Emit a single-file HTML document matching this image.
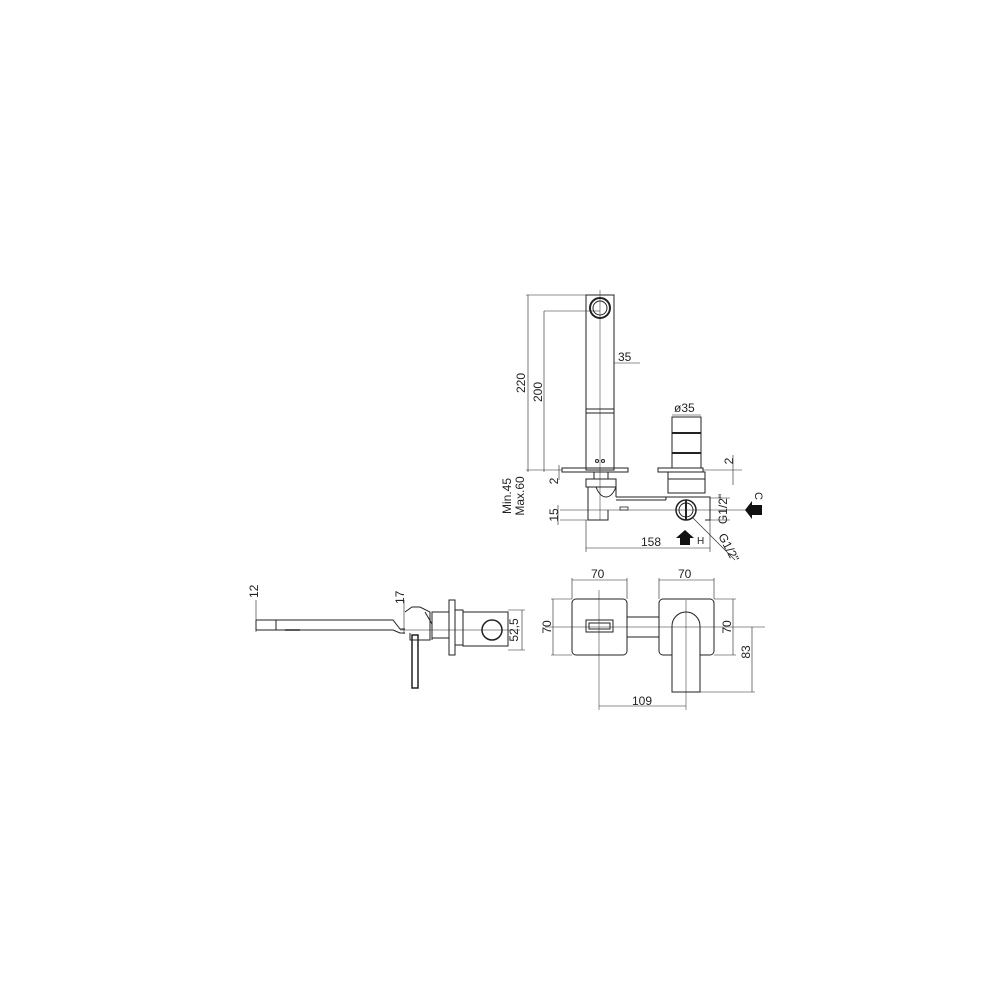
<!DOCTYPE html>
<html><head><style>html,body{margin:0;padding:0;background:#fff;}svg{display:block}</style></head>
<body>
<svg width="1000" height="1000" viewBox="0 0 1000 1000" xmlns="http://www.w3.org/2000/svg" font-family="Liberation Sans, sans-serif" font-size="12" fill="none" stroke="#222" stroke-width="1">
<!-- TOP VIEW -->
<rect x="586" y="295" width="28" height="175"/>
<circle cx="600" cy="308" r="10" stroke-width="2"/>
<circle cx="600" cy="308" r="7"/>
<line x1="586" y1="409" x2="614" y2="409"/><line x1="586" y1="413" x2="614" y2="413"/>
<circle cx="597" cy="461" r="1.5"/><circle cx="603" cy="461" r="1.5"/>
<line x1="600" y1="290" x2="600" y2="520" stroke-width="0.5"/>
<line x1="526" y1="295" x2="586" y2="295" stroke-width="0.6"/>
<line x1="528" y1="295" x2="528" y2="472" stroke-width="0.6"/>
<line x1="544" y1="311" x2="600" y2="311" stroke-width="0.6"/>
<line x1="544" y1="311" x2="544" y2="472" stroke-width="0.6"/>
<rect x="562" y="468" width="66" height="4" stroke-width="1"/>
<line x1="526" y1="470" x2="562" y2="470" stroke-width="0.6"/>
<line x1="559" y1="465" x2="559" y2="480" stroke-width="0.6"/>
<line x1="614" y1="363" x2="640" y2="363" stroke-width="0.6"/>
<line x1="614" y1="363" x2="614" y2="363"/>
<!-- lower body left -->
<rect x="594" y="472" width="14" height="7"/>
<rect x="586" y="479" width="30" height="8"/>
<path d="M588 487 V520 H608 V510 M616 487 V497 M596 487 q4 10 10 10 q6 0 10-10"/>
<line x1="616" y1="497" x2="666" y2="497"/><line x1="616" y1="500" x2="666" y2="500"/>
<rect x="620" y="507" width="8" height="3" stroke-width="0.8"/>
<line x1="560" y1="510" x2="760" y2="510" stroke-width="0.5"/>
<line x1="560" y1="520" x2="608" y2="520" stroke-width="0.6"/>
<line x1="558" y1="505" x2="558" y2="525" stroke-width="0.6"/>
<!-- right cartridge -->
<rect x="672" y="417" width="29" height="51"/>
<line x1="672" y1="433" x2="701" y2="433" stroke-width="2"/><line x1="672" y1="453" x2="701" y2="453" stroke-width="2"/>
<line x1="672" y1="415" x2="701" y2="415" stroke-width="0.6"/>
<rect x="658" y="468" width="45" height="4"/>
<line x1="703" y1="470" x2="742" y2="470" stroke-width="0.6"/>
<line x1="733" y1="455" x2="733" y2="485" stroke-width="0.6"/>
<rect x="668" y="472" width="37" height="7"/>
<rect x="668" y="479" width="37" height="14"/>
<path d="M666 497 H710 V520 H705 M666 497 V500"/>
<circle cx="686" cy="510" r="10" stroke-width="1.5"/>
<circle cx="686" cy="510" r="7"/>
<line x1="686" y1="500" x2="686" y2="520" stroke-width="2"/>
<line x1="710" y1="498" x2="730" y2="498" stroke-width="0.6"/>
<line x1="710" y1="520" x2="730" y2="520" stroke-width="0.6"/>
<line x1="692" y1="517" x2="735" y2="560" stroke-width="0.6"/>
<line x1="586" y1="520" x2="586" y2="552" stroke-width="0.6"/>
<line x1="710" y1="520" x2="710" y2="552" stroke-width="0.6"/>
<line x1="586" y1="548" x2="710" y2="548" stroke-width="0.6"/>
<path d="M762 505 H752 V501 L745 510 L752 519 V515 H762 Z" fill="#111" stroke="none"/>
<path d="M680 545 V538 H676 L685 530 L694 538 H690 V545 Z" fill="#111" stroke="none"/>
<g fill="#222" stroke="none">
<text x="618" y="361">35</text>
<text x="674" y="412">ø35</text>
<text x="641" y="546">158</text>
<text x="697" y="544" font-size="10">H</text>
<text transform="translate(525,383) rotate(-90)" text-anchor="middle">220</text>
<text transform="translate(542,392) rotate(-90)" text-anchor="middle">200</text>
<text transform="translate(558,481) rotate(-90)" text-anchor="middle">2</text>
<text transform="translate(558,515) rotate(-90)" text-anchor="middle">15</text>
<text transform="translate(511,496) rotate(-90)" text-anchor="middle">Min.45</text>
<text transform="translate(524,496) rotate(-90)" text-anchor="middle">Max.60</text>
<text transform="translate(733,461) rotate(-90)" text-anchor="middle">2</text>
<text transform="translate(727,509) rotate(-90)" text-anchor="middle">G1/2"</text>
<text transform="translate(755,496) rotate(90)" text-anchor="middle" font-size="11">C</text>
<text transform="translate(718,536) rotate(62)">G1/2"</text>
</g>
<!-- SIDE VIEW -->
<path d="M256 620 H393 L400 629 H405 M256 620 V630 H393 L400 633 H405"/>
<line x1="276" y1="620" x2="276" y2="630"/>
<line x1="285" y1="630" x2="300" y2="630" stroke-width="1.5"/>
<line x1="256" y1="600" x2="256" y2="632" stroke-width="0.6"/>
<line x1="404" y1="600" x2="404" y2="634" stroke-width="0.6"/>
<path d="M405 612 L412 607 H420 L430 612 V640 H410 V633"/>
<path d="M425 612 L432 624 V640"/>
<rect x="432" y="612" width="17" height="26"/>
<rect x="412" y="635" width="6" height="53" stroke-width="1.5"/>
<rect x="449" y="600" width="6" height="55"/>
<rect x="455" y="610" width="8" height="35"/>
<rect x="463" y="612" width="45" height="34"/>
<circle cx="492" cy="630" r="10" stroke-width="1.5"/>
<line x1="400" y1="630" x2="520" y2="630" stroke-width="0.5"/>
<line x1="508" y1="610" x2="525" y2="610" stroke-width="0.6"/>
<line x1="508" y1="650" x2="525" y2="650" stroke-width="0.6"/>
<line x1="522" y1="610" x2="522" y2="650" stroke-width="0.6"/>
<g fill="#222" stroke="none">
<text transform="translate(258,598) rotate(-90)">12</text>
<text transform="translate(404,604) rotate(-90)">17</text>
<text transform="translate(518,630) rotate(-90)" text-anchor="middle">52,5</text>
</g>
<!-- FRONT VIEW -->
<rect x="572" y="599" width="55" height="56" rx="4"/>
<rect x="659" y="599" width="55" height="56" rx="4"/>
<rect x="586" y="620" width="27" height="12"/>
<rect x="589" y="623" width="21" height="6"/>
<line x1="627" y1="617" x2="659" y2="617"/><line x1="627" y1="637" x2="659" y2="637"/>
<path d="M672 626 A14 14 0 0 1 700 626 V692 H672 Z" fill="#fff"/>
<line x1="545" y1="627" x2="765" y2="627" stroke-width="0.5"/>
<line x1="599" y1="590" x2="599" y2="710" stroke-width="0.5"/>
<line x1="686" y1="600" x2="686" y2="710" stroke-width="0.5"/>
<line x1="572" y1="580" x2="627" y2="580" stroke-width="0.6"/>
<line x1="572" y1="578" x2="572" y2="599" stroke-width="0.6"/><line x1="627" y1="578" x2="627" y2="599" stroke-width="0.6"/>
<line x1="659" y1="580" x2="714" y2="580" stroke-width="0.6"/>
<line x1="659" y1="578" x2="659" y2="599" stroke-width="0.6"/><line x1="714" y1="578" x2="714" y2="599" stroke-width="0.6"/>
<line x1="553" y1="599" x2="553" y2="655" stroke-width="0.6"/>
<line x1="551" y1="599" x2="572" y2="599" stroke-width="0.6"/><line x1="551" y1="655" x2="572" y2="655" stroke-width="0.6"/>
<line x1="733" y1="599" x2="733" y2="655" stroke-width="0.6"/>
<line x1="714" y1="599" x2="736" y2="599" stroke-width="0.6"/><line x1="714" y1="655" x2="736" y2="655" stroke-width="0.6"/>
<line x1="752" y1="627" x2="752" y2="692" stroke-width="0.6"/>
<line x1="700" y1="692" x2="755" y2="692" stroke-width="0.6"/>
<line x1="599" y1="706" x2="686" y2="706" stroke-width="0.6"/>
<g fill="#222" stroke="none">
<text x="591" y="578">70</text>
<text x="678" y="578">70</text>
<text x="632" y="705">109</text>
<text transform="translate(551,627) rotate(-90)" text-anchor="middle">70</text>
<text transform="translate(731,627) rotate(-90)" text-anchor="middle">70</text>
<text transform="translate(750,652) rotate(-90)" text-anchor="middle">83</text>
</g>
</svg>
</body></html>
